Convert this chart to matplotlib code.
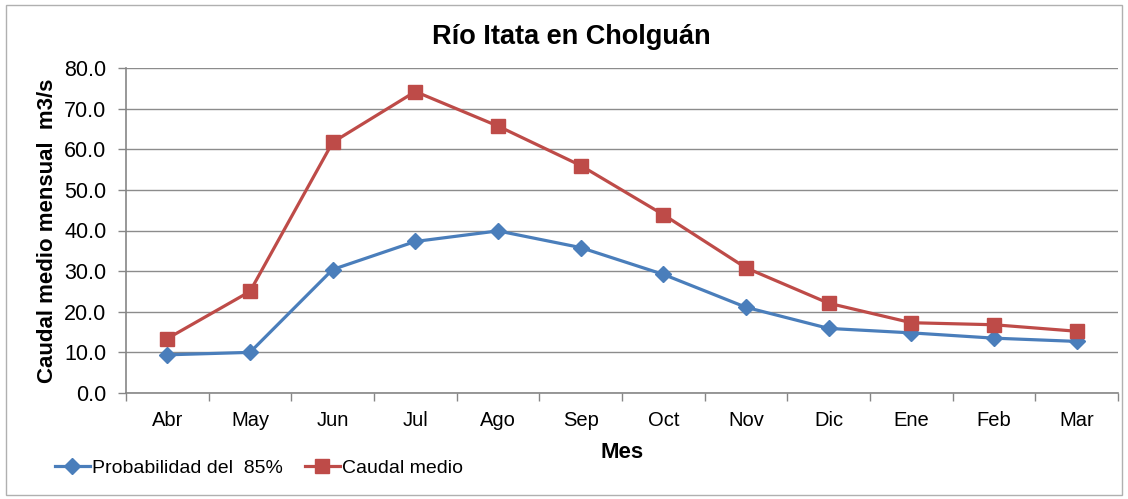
import matplotlib.pyplot as plt
from matplotlib.patches import Rectangle
import numpy as np

meses = ['Abr', 'May', 'Jun', 'Jul', 'Ago', 'Sep', 'Oct', 'Nov', 'Dic', 'Ene', 'Feb', 'Mar']
prob_85 = [9.4, 10.0, 30.4, 37.3, 39.9, 35.8, 29.2, 21.1, 15.9, 14.8, 13.5, 12.7]
caudal_medio = [13.4, 25.0, 61.7, 74.2, 65.7, 56.0, 43.9, 30.8, 22.1, 17.3, 16.8, 15.2]
y_ticks = [0, 10, 20, 30, 40, 50, 60, 70, 80]

plt.rcParams['font.family'] = ['Liberation Sans', 'DejaVu Sans']

W, H = 1128, 499
fig = plt.figure(figsize=(W / 100, H / 100), dpi=100)
ax = fig.add_axes([126 / W, 1 - 393 / H, (1118 - 126) / W, (393 - 68) / H])

x = np.arange(len(meses))
ax.plot(x, prob_85, color='#4a7ebb', lw=2.3, marker='D', ms=8.5,
        label='Probabilidad del  85%', zorder=3)
ax.plot(x, caudal_medio, color='#be4b48', lw=2.3, marker='s', ms=10,
        label='Caudal medio', zorder=3)

ax.set_xlim(-0.5, len(meses) - 0.5)
ax.set_ylim(0, 80)
ax.set_yticks(y_ticks)
ax.set_yticklabels([f'{v:.1f}' for v in y_ticks])
ax.set_xticks(x)
ax.set_xticklabels(meses)
ax.set_xticks(np.arange(-0.5, len(meses)), minor=True)
ax.tick_params(axis='x', which='major', length=0, pad=13, labelsize=14.5)
ax.tick_params(axis='x', which='minor', length=6, color='#868686', width=1)
ax.tick_params(axis='y', length=6, color='#868686', width=1, labelsize=15.5, pad=8)

ax.grid(axis='y', color='#8c8c8c', lw=1)
ax.set_axisbelow(True)
for s in ['top', 'right']:
    ax.spines[s].set_visible(False)
for s in ['left', 'bottom']:
    ax.spines[s].set_color('#868686')
    ax.spines[s].set_linewidth(1.2)

fig.text(571 / W, 1 - 37 / H, 'Río Itata en Cholguán', fontsize=19.5, fontweight='bold',
         ha='center', va='center')
ax.set_xlabel('Mes', fontsize=16, fontweight='bold')
ax.xaxis.set_label_coords(0.5, -0.15)
ax.set_ylabel('Caudal medio mensual  m3/s', fontsize=16, fontweight='bold')
ax.yaxis.set_label_coords(-0.069, 0.5)

fig.legend(loc='lower left', bbox_to_anchor=(45 / W, 12 / H), ncol=2, frameon=False,
           fontsize=14, handlelength=1.8, handletextpad=0.1, columnspacing=1.15, borderpad=0)

fig.patches.append(Rectangle((6 / W, 4 / H), 1116 / W, 490 / H, transform=fig.transFigure,
                             fill=False, edgecolor='#b0b0b0', lw=1))

fig.savefig('out.png', dpi=100)
